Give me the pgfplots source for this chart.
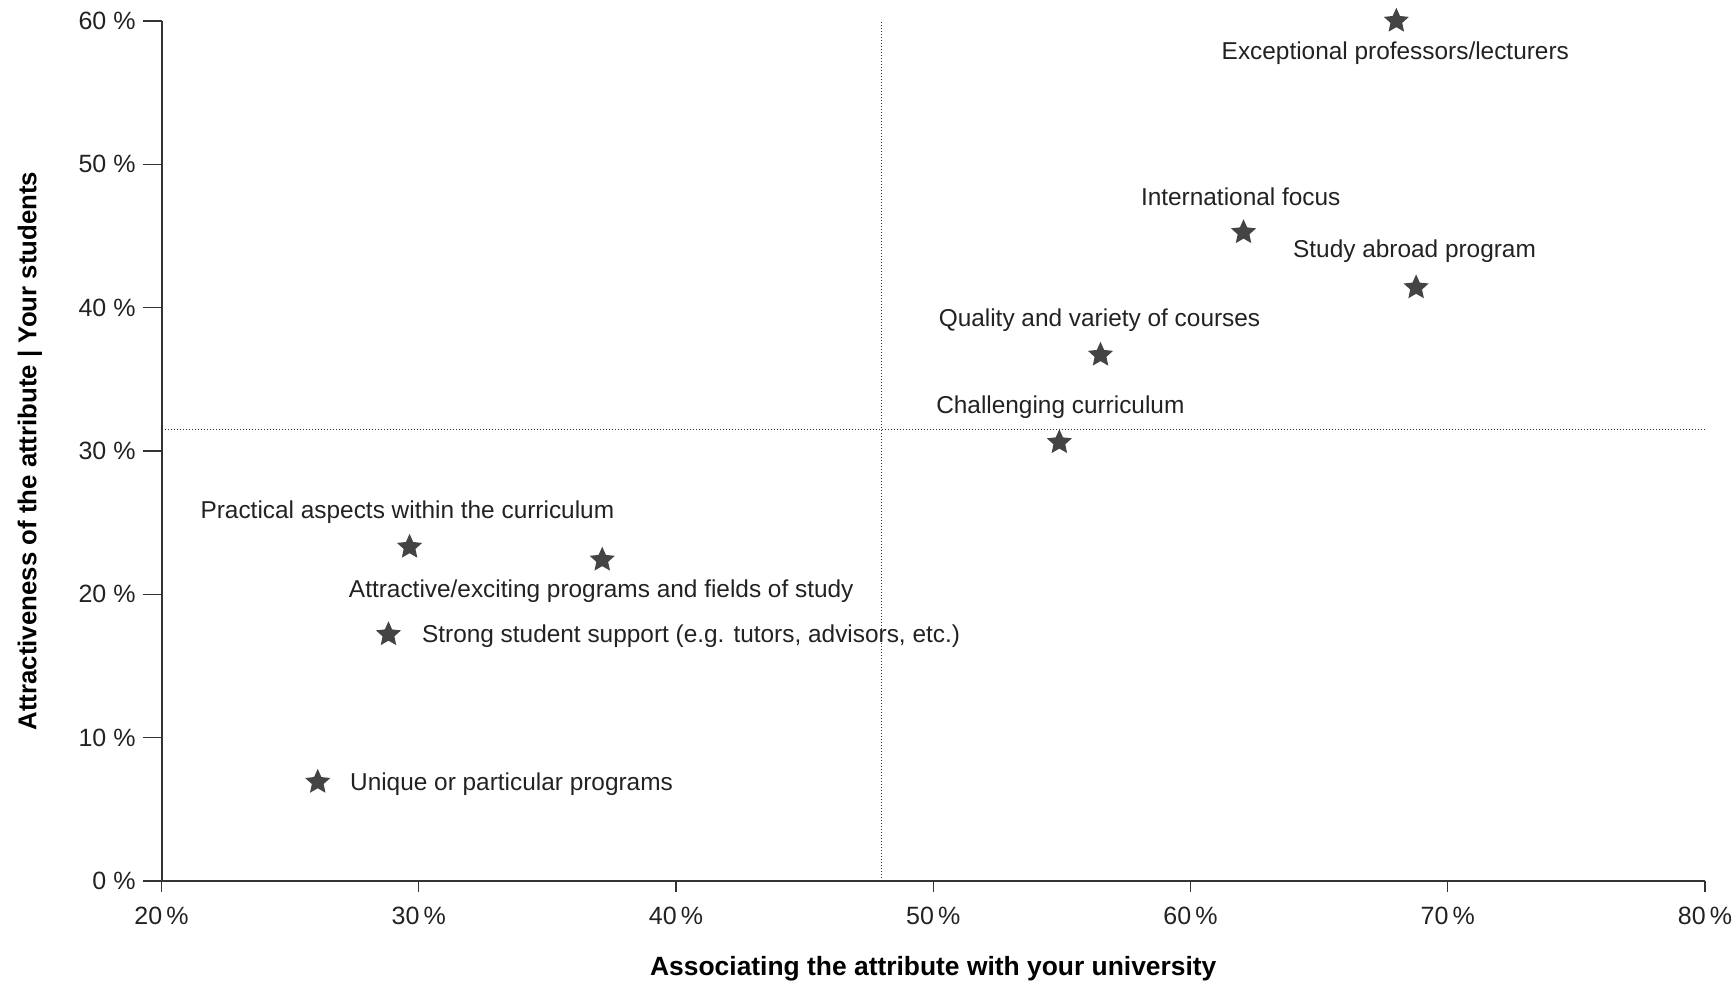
\documentclass[border=0pt]{standalone}
\usepackage{fontspec}
\setmainfont{Liberation Sans}
\usepackage{pgfplots}
\pgfplotsset{compat=1.18}
\definecolor{txt}{HTML}{222222}
\definecolor{axc}{HTML}{333333}
\definecolor{starc}{HTML}{444444}

\pgfdeclareplotmark{fstar}{%
  \pgfpathmoveto{\pgfpointpolar{90}{\pgfplotmarksize}}%
  \pgfpathlineto{\pgfpointpolar{126}{0.47\pgfplotmarksize}}%
  \pgfpathlineto{\pgfpointpolar{162}{\pgfplotmarksize}}%
  \pgfpathlineto{\pgfpointpolar{198}{0.47\pgfplotmarksize}}%
  \pgfpathlineto{\pgfpointpolar{234}{\pgfplotmarksize}}%
  \pgfpathlineto{\pgfpointpolar{270}{0.47\pgfplotmarksize}}%
  \pgfpathlineto{\pgfpointpolar{306}{\pgfplotmarksize}}%
  \pgfpathlineto{\pgfpointpolar{342}{0.47\pgfplotmarksize}}%
  \pgfpathlineto{\pgfpointpolar{18}{\pgfplotmarksize}}%
  \pgfpathlineto{\pgfpointpolar{54}{0.47\pgfplotmarksize}}%
  \pgfpathclose
  \pgfusepathqfill}

\begin{document}
\begin{tikzpicture}
\begin{axis}[
  scale only axis, width=771.7pt, height=430pt,
  xmin=20, xmax=80, ymin=0, ymax=60,
  clip=false,
  axis lines=left,
  axis line style={-, axc, line width=1pt},
  tick align=outside,
  major tick length=9.5pt,
  tick style={axc, line width=0.6pt},
  xtick style={/pgfplots/major tick length=5.5pt},
  xtick={20,30,40,50,60,70,80},
  ytick={0,10,20,30,40,50,60},
  xticklabels={20\,\%,30\,\%,40\,\%,50\,\%,60\,\%,70\,\%,80\,\%},
  yticklabels={0 \%,10 \%,20 \%,30 \%,40 \%,50 \%,60 \%},
  xticklabel style={font=\fontsize{12.5}{14}\selectfont, text=txt},
  yticklabel style={font=\fontsize{12.5}{14}\selectfont, text=txt},
  xlabel={Associating the attribute with your university},
  ylabel={Attractiveness of the attribute | Your students},
  xlabel style={font=\bfseries\fontsize{13.2}{15}\selectfont, text=black, at={(axis description cs:0.5,-0.1015)}, anchor=center},
  ylabel style={font=\bfseries\fontsize{12.9}{15}\selectfont, text=black, at={(axis description cs:-0.0853,0.5)}, anchor=center},
]
\addplot[axc, line width=0.6pt, dash pattern=on 0.6pt off 0.9pt] coordinates {(48,0) (48,60)};
\addplot[axc, line width=0.6pt, dash pattern=on 0.6pt off 0.9pt] coordinates {(20,31.5) (80,31.5)};
\addplot[only marks, mark=fstar, mark size=6.6pt, color=starc,
  point meta=explicit symbolic,
  visualization depends on={value \thisrow{anch} \as \anch},
  visualization depends on={\thisrow{dx} \as \dx},
  visualization depends on={\thisrow{dy} \as \dy},
  nodes near coords,
  every node near coord/.append style={anchor=\anch, xshift=\dx pt, yshift=\dy pt, font=\fontsize{12.2}{14}\selectfont, text=txt, inner sep=0pt},
] table[x=x, y=y, meta=label] {
x y label anch dx dy
68.0 60.0 {Exceptional professors/lecturers} center -0.5 -16.1
62.06 45.25 {International focus} center -1.4 18.0
68.77 41.4 {Study abroad program} center -0.8 18.4
56.5 36.7 {Quality and variety of courses} center -0.5 17.4
54.9 30.6 {Challenging curriculum} center 0.5 17.4
29.64 23.3 {Practical aspects within the curriculum} center -1.1 17.4
37.13 22.4 {Attractive/exciting programs and fields of study} center -0.5 -15.4
28.82 17.2 {Strong student support (e.g. tutors, advisors, etc.)} west 16.6 -1.0
26.07 6.9 {Unique or particular programs} west 16 -1.0
};
\end{axis}
\pgfresetboundingbox
\path (-80.8pt,-51pt) rectangle (787.2pt,440.5pt);
\end{tikzpicture}
\end{document}
